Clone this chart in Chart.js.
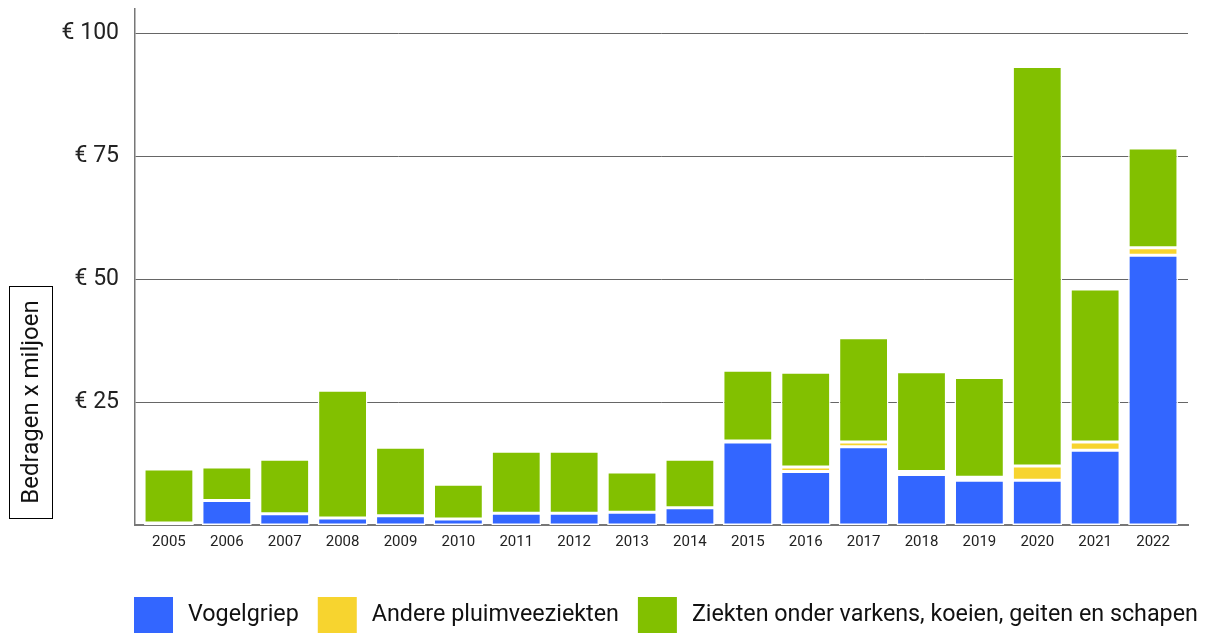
<!DOCTYPE html>
<html>
<head>
<meta charset="utf-8">
<script src="https://cdn.jsdelivr.net/npm/chart.js"></script>
<style>
  html, body { margin: 0; padding: 0; background: #fff; overflow: hidden; }
  .chart-wrap { position: relative; width: 1210px; height: 633px; }
</style>
</head>
<body>
<div class="chart-wrap"><canvas id="chart"></canvas></div>
<script>
// jaren
const years = ['2005', '2006', '2007', '2008', '2009', '2010', '2011', '2012', '2013',
  '2014', '2015', '2016', '2017', '2018', '2019', '2020', '2021', '2022'];

// bedragen x miljoen euro
const vogelgriep = [0.4, 5.0, 2.3, 1.4, 1.9, 1.2, 2.4, 2.4, 2.6, 3.5, 16.9, 10.9, 15.9, 10.3, 9.1, 9.1, 15.2, 54.9];
const anderePluimvee = [0, 0, 0, 0, 0, 0, 0, 0, 0, 0, 0.2, 0.9, 1.0, 0.6, 0.6, 2.9, 1.7, 1.5];
const overigeDieren = [11.0, 6.8, 11.1, 26.0, 13.9, 7.1, 12.6, 12.6, 8.2, 9.9, 14.4, 19.3, 21.2, 20.3, 20.3, 81.3, 31.1, 20.3];

const yTicks = [25, 50, 75, 100];
const yTitle = 'Bedragen x miljoen';

const FONT = 'Roboto, "Noto Sans", sans-serif';

// de staven beginnen iets rechts van de y-as en stoppen iets voor het einde van de rasterlijnen
const xInset = { left: 5, right: 6 };
const xInsetPlugin = {
  id: 'xInset',
  afterLayout(chart) {
    const xs = chart.scales.x;
    xs._startPixel += xInset.left;
    xs._length -= xInset.left + xInset.right;
    xs._endPixel = xs._startPixel + xs._length;
  }
};

// as-titel in een kader links
const axisTitleBox = {
  id: 'axisTitleBox',
  afterDraw(chart) {
    const c = chart.ctx;
    c.save();
    c.strokeStyle = '#000';
    c.lineWidth = 1;
    c.strokeRect(9.5, 286.5, 43, 232);
    c.translate(31, 402);
    c.rotate(-Math.PI / 2);
    c.fillStyle = '#111';
    c.font = '24px ' + FONT;
    c.textAlign = 'center';
    c.textBaseline = 'middle';
    c.fillText(yTitle, 0, 1);
    c.restore();
  }
};

// legenda onderaan
const bottomLegend = {
  id: 'bottomLegend',
  afterDraw(chart) {
    const c = chart.ctx;
    c.save();
    c.font = '23.3px ' + FONT;
    c.textBaseline = 'middle';
    let x = 134;
    const y = 597;
    chart.data.datasets.forEach(ds => {
      c.fillStyle = ds.backgroundColor;
      c.fillRect(x, y, 39, 36);
      x += 39 + 15;
      c.fillStyle = '#111';
      c.fillText(ds.label, x, y + 18);
      x += c.measureText(ds.label).width + 19;
    });
    c.restore();
  }
};

const barStyle = {
  borderColor: '#ffffff',
  borderWidth: 1.5,
  borderSkipped: false,
  barPercentage: 0.86,
  categoryPercentage: 1.0
};

new Chart(document.getElementById('chart'), {
  type: 'bar',
  data: {
    labels: years,
    datasets: [
      { label: 'Vogelgriep', data: vogelgriep, backgroundColor: '#3366ff', ...barStyle },
      { label: 'Andere pluimveeziekten', data: anderePluimvee, backgroundColor: '#f7d42f', ...barStyle },
      { label: 'Ziekten onder varkens, koeien, geiten en schapen', data: overigeDieren, backgroundColor: '#82c000', ...barStyle }
    ]
  },
  options: {
    responsive: true,
    maintainAspectRatio: false,
    animation: false,
    layout: { padding: { top: 9, right: 22, bottom: 78, left: 0 } },
    plugins: {
      legend: { display: false },
      tooltip: { enabled: false }
    },
    scales: {
      x: {
        stacked: true,
        afterFit: scale => {
          scale.height = 30;
          scale.paddingLeft = 0;
          scale.paddingRight = 0;
        },
        grid: { display: false, drawTicks: false },
        border: { display: true, color: '#777', width: 2 },
        ticks: { color: '#222', font: { family: FONT, size: 15 }, padding: 8, maxRotation: 0 }
      },
      y: {
        stacked: true,
        min: 0,
        max: 105,
        afterFit: scale => {
          scale.width = 135;
          scale.paddingTop = 0;
          scale.paddingBottom = 0;
        },
        afterBuildTicks: scale => { scale.ticks = yTicks.map(v => ({ value: v })); },
        grid: { color: '#666', lineWidth: 1, drawTicks: false },
        border: { display: true, color: '#777', width: 1.5 },
        ticks: {
          color: '#222',
          font: { family: FONT, size: 23 },
          padding: 16,
          callback: v => '€ ' + v
        }
      }
    }
  },
  plugins: [xInsetPlugin, axisTitleBox, bottomLegend]
});
</script>
</body>
</html>
